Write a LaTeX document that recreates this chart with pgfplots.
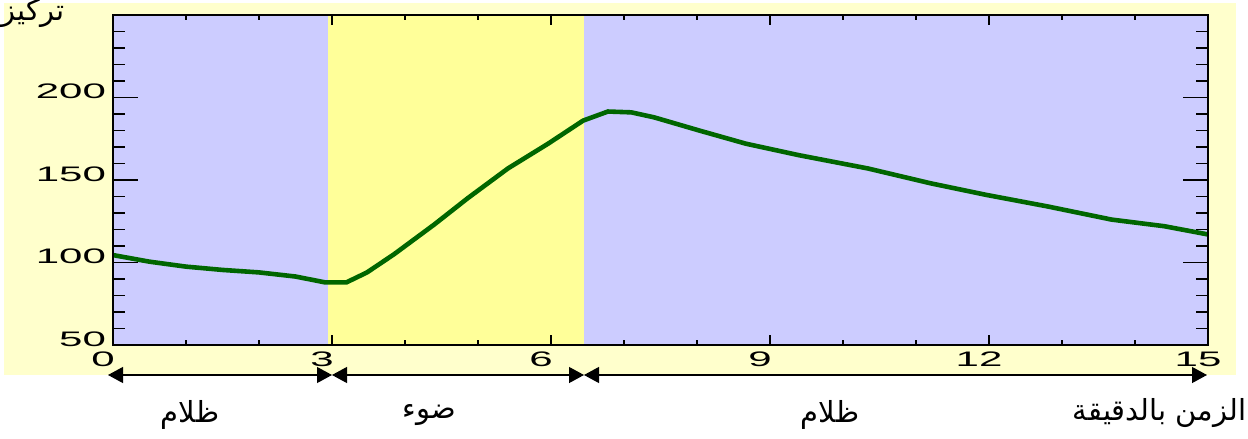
\documentclass[border=0pt]{standalone}
\usepackage{pgfplots}
\pgfplotsset{compat=1.18}
\usetikzlibrary{arrows.meta}
\usepackage{fontspec}
\setmainfont{Liberation Sans}
\newfontfamily\tickfont[FakeStretch=2.0]{Liberation Sans}
\newfontfamily\arabicfont[Script=Arabic]{DejaVu Sans}
\TeXXeTstate=1

\definecolor{pale}{RGB}{255,255,204}
\definecolor{lav}{RGB}{204,204,255}
\definecolor{lighty}{RGB}{255,255,153}
\definecolor{curve}{RGB}{0,102,0}

\pgfplotsset{base/.style={
  scale only axis, width=547.5pt, height=165pt,
  at={(56.5pt,-172.5pt)}, anchor=south west,
  xmin=0, xmax=15, ymin=50, ymax=250,
  axis line style={line width=1.2pt},
  tick style={black, line width=0.9pt},
  /pgf/number format/assume math mode=true,
  tick label style={font=\tickfont\fontsize{10.5}{12}\selectfont}}}

\begin{document}
\begin{tikzpicture}
\useasboundingbox (0,0) rectangle (624pt,-219.5pt);
\fill[pale] (2pt,-1.5pt) rectangle (618pt,-187.5pt);

% shading, curve and y ticks
\begin{axis}[base, axis on top,
  xtick=\empty,
  ytick={50,100,150,200,250}, yticklabels={50,100,150,200,{}},
  minor y tick num=4,
  major tick length=12.5pt, minor tick length=6pt,
  yticklabel style={yshift=3pt}]
\addplot[draw=none, fill=lav] coordinates {(0,50)(0,250)(2.95,250)(2.95,50)} -- cycle;
\addplot[draw=none, fill=lighty] coordinates {(2.95,50)(2.95,250)(6.45,250)(6.45,50)} -- cycle;
\addplot[draw=none, fill=lav] coordinates {(6.45,50)(6.45,250)(15,250)(15,50)} -- cycle;
\addplot[curve, line width=2.3pt] coordinates {
  (0,104.5)(0.5,100.5)(1,97.5)(1.5,95.5)(2,94)(2.5,91.5)(2.9,88)(3.2,88)
  (3.48,94)(3.85,105)(4.4,123)(4.86,139)(5.41,157)(5.96,172)(6.44,186)
  (6.78,191.5)(7.1,191)(7.41,188)(8.03,180)(8.67,172)(9.4,165)(10.34,157)
  (11.2,148)(11.96,141)(12.8,134)(13.68,126)(14.4,122)(15,117)};
\end{axis}

% x ticks
\begin{axis}[base,
  ytick=\empty,
  xtick={0,3,6,9,12,15}, xticklabels={0,3,6,9,12,{15\hspace{16pt}}},
  minor x tick num=2,
  major tick length=5pt, minor tick length=2.5pt,
  xticklabel style={xshift=-5pt}]
\end{axis}

\begin{scope}[x=0.5pt, y=-0.5pt, line width=0.6pt,
  >={Triangle[length=7.5pt,width=8pt]}]
\draw[<->] (108,375) -- (332,375);
\draw[<->] (332,375) -- (584,375);
\draw[<->] (584,375) -- (1207,375);
\begin{scope}[every node/.style={font=\arabicfont\fontsize{14.5}{16}\selectfont, inner sep=0pt}]
\node at (190,415) {\beginR ظلام\endR};
\node at (429,415) {\beginR ضوء\endR};
\node at (830,415) {\beginR ظلام\endR};
\node[anchor=east] at (1247,413) {\beginR الزمن بالدقيقة\endR};
\node[anchor=west] at (1,13) {\beginR تركيز\endR};
\end{scope}
\end{scope}
\end{tikzpicture}
\end{document}
